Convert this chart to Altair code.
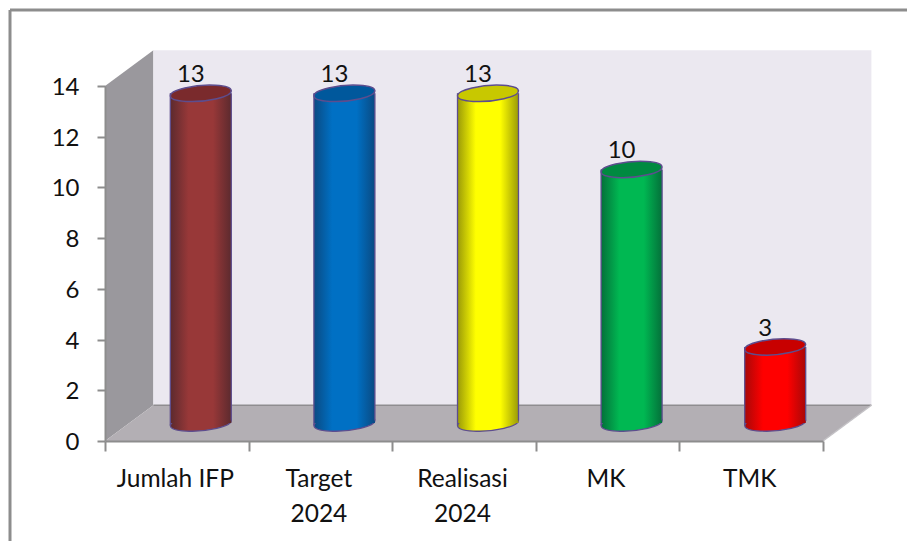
import altair as alt
import pandas as pd

categories = ["Jumlah IFP", "Target|2024", "Realisasi|2024", "MK", "TMK"]
values = [13, 13, 13, 10, 3]
body_mid = ["#983838", "#0070c4", "#ffff00", "#00b852", "#ff0000"]
body_edge = ["#5c2a2e", "#0a4a82", "#9a9a08", "#04703a", "#a80808"]
top_fill = ["#7a2a2c", "#00589c", "#c8c800", "#008a40", "#c80000"]

y_ticks = [0, 2, 4, 6, 8, 10, 12, 14]
x_domain = [0, 5]
y_domain = [0, 14]

# box geometry in axis units: depth of the 3-D box
depth_x = 0.337
depth_y = 1.41

font = "Lato"
grey = "#8d8d8d"
outline = "#5d4d8e"

side_x = [0, depth_x]
side_low = [0, depth_y]
side_high = [14, 14 + depth_y]

back_x = [depth_x, 5 + depth_x]
back_low = [depth_y, depth_y]
back_high = [14 + depth_y, 14 + depth_y]

floor_x = [0, depth_x, 5, 5 + depth_x]
floor_front = [0, 0, 0, depth_y]
floor_back = [0, depth_y, depth_y, depth_y]

edge_back_x = [depth_x, 5 + depth_x]
edge_back_y = [depth_y, depth_y]
edge_right_x = [5, 5 + depth_x]
edge_right_y = [0, depth_y]

xq = alt.X("x:Q", scale=alt.Scale(domain=x_domain, nice=False, zero=False), axis=None)
ys = alt.Scale(domain=y_domain, nice=False)
xband = alt.Scale(type="band", domain=categories, paddingInner=0, paddingOuter=0)
Xc = alt.X("cat:N", scale=xband, sort=categories, axis=None)


def area(xs, low, high, color):
    df = pd.DataFrame({"x": xs, "low": low, "high": high})
    return alt.Chart(df).mark_area(color=color, opacity=1, interpolate="linear").encode(
        x=xq,
        y=alt.Y("low:Q", scale=ys, axis=None),
        y2="high:Q",
    )


def edge(xs, ys_, color, w):
    df = pd.DataFrame({"x": xs, "y": ys_})
    return alt.Chart(df).mark_line(color=color, strokeWidth=w).encode(
        x=xq, y=alt.Y("y:Q", scale=ys, axis=None)
    )


def frame(x1, x2, y1, y2):
    d = pd.DataFrame({"k": [0]})
    return alt.Chart(d).mark_rule(color=grey, strokeWidth=3).encode(
        x=alt.value(x1), x2=alt.value(x2), y=alt.value(y1), y2=alt.value(y2)
    )


layers = [
    frame(-95, -95, -76, 455),
    frame(-95, 810, -76, -76),
    area(side_x, side_low, side_high, "#9a989d"),
    area(back_x, back_low, back_high, "#ebe8f0"),
    area(floor_x, floor_front, floor_back, "#b3afb4"),
    edge(edge_back_x, edge_back_y, "#8f8d90", 1.5),
    edge(edge_right_x, edge_right_y, "#c4c2c6", 1.5),
]

# carrier of the two axes
axis_df = pd.DataFrame({"cat": categories, "v": values})
axis_layer = alt.Chart(axis_df).mark_bar(opacity=0).encode(
    x=alt.X(
        "cat:N",
        scale=xband,
        sort=categories,
        title=None,
        axis=alt.Axis(
            tickBand="extent",
            labelExpr="split(datum.label, '|')",
            labelAngle=0,
            labelFont=font,
            labelFontSize=24.5,
            labelColor="#111111",
            labelLineHeight=35,
            labelPadding=16,
            labelOffset=-2,
            labelBaseline="top",
            labelAlign="center",
            tickSize=10,
            tickWidth=2,
            tickColor=grey,
            domainColor=grey,
            domainWidth=2,
            grid=False,
            zindex=1,
        ),
    ),
    y=alt.Y(
        "v:Q",
        scale=ys,
        title=None,
        axis=alt.Axis(
            values=y_ticks,
            labelFont=font,
            labelFontSize=24,
            labelColor="#111111",
            labelPadding=18,
            labelOffset=1.5,
            tickSize=8,
            tickWidth=2,
            tickColor=grey,
            domainColor=grey,
            domainWidth=2,
            grid=False,
            zindex=1,
        ),
    ),
)
layers.append(axis_layer)

ELLIPSE = "M -0.996 0.087 A 1 0.25 -5 1 1 0.996 -0.087 A 1 0.25 -5 1 1 -0.996 0.087 Z"
OX, OY, W = 24, -18, 61

for c, v, mid, e, t in zip(categories, values, body_mid, body_edge, top_fill):
    df = pd.DataFrame({"cat": [c], "v": [v], "zero": [0]})
    grad = alt.LinearGradient(
        gradient="linear", x1=0, x2=1, y1=0, y2=0,
        stops=[
            alt.GradientStop(offset=0, color=e),
            alt.GradientStop(offset=0.3, color=mid),
            alt.GradientStop(offset=0.7, color=mid),
            alt.GradientStop(offset=1, color=e),
        ],
    )
    base = alt.Chart(df)
    Yz = alt.Y("zero:Q", scale=ys, axis=None)
    Yv = alt.Y("v:Q", scale=ys, axis=None)
    layers.append(
        base.mark_point(shape=ELLIPSE, size=W * W, filled=True, fill=grad, stroke=outline,
                        strokeWidth=1.3, opacity=1, xOffset=OX, yOffset=OY).encode(x=Xc, y=Yz)
    )
    layers.append(
        base.mark_bar(width=W, fill=grad, xOffset=OX, yOffset=OY, y2Offset=OY).encode(
            x=Xc, y=Yv, y2="zero:Q"
        )
    )
    for dx, extra in ((-W / 2, 2.5), (W / 2, -2.5)):
        layers.append(
            base.mark_rule(color=outline, strokeWidth=1.3, xOffset=OX + dx, yOffset=OY,
                           y2Offset=OY + extra).encode(x=Xc, y=Yv, y2="zero:Q")
        )
    layers.append(
        base.mark_point(shape=ELLIPSE, size=W * W, filled=True, fill=t, stroke=outline,
                        strokeWidth=1.5, opacity=1, xOffset=OX, yOffset=OY).encode(x=Xc, y=Yv)
    )
    layers.append(
        base.mark_text(font=font, fontSize=24, color="#111111", baseline="middle",
                       xOffset=OX - 10, yOffset=-36).encode(x=Xc, y=Yv, text="v:Q")
    )

chart = (
    alt.layer(*layers)
    .resolve_scale(x="independent")
    .resolve_axis(y="independent")
    .properties(
        width=718,
        height=355,
        autosize=alt.AutoSizeParams(type="none"),
        padding={"left": 97, "top": 78, "right": 84, "bottom": 100},
    )
    .configure_view(stroke=None)
)

chart.save("out.html", embed_options={"renderer": "svg", "actions": False})
